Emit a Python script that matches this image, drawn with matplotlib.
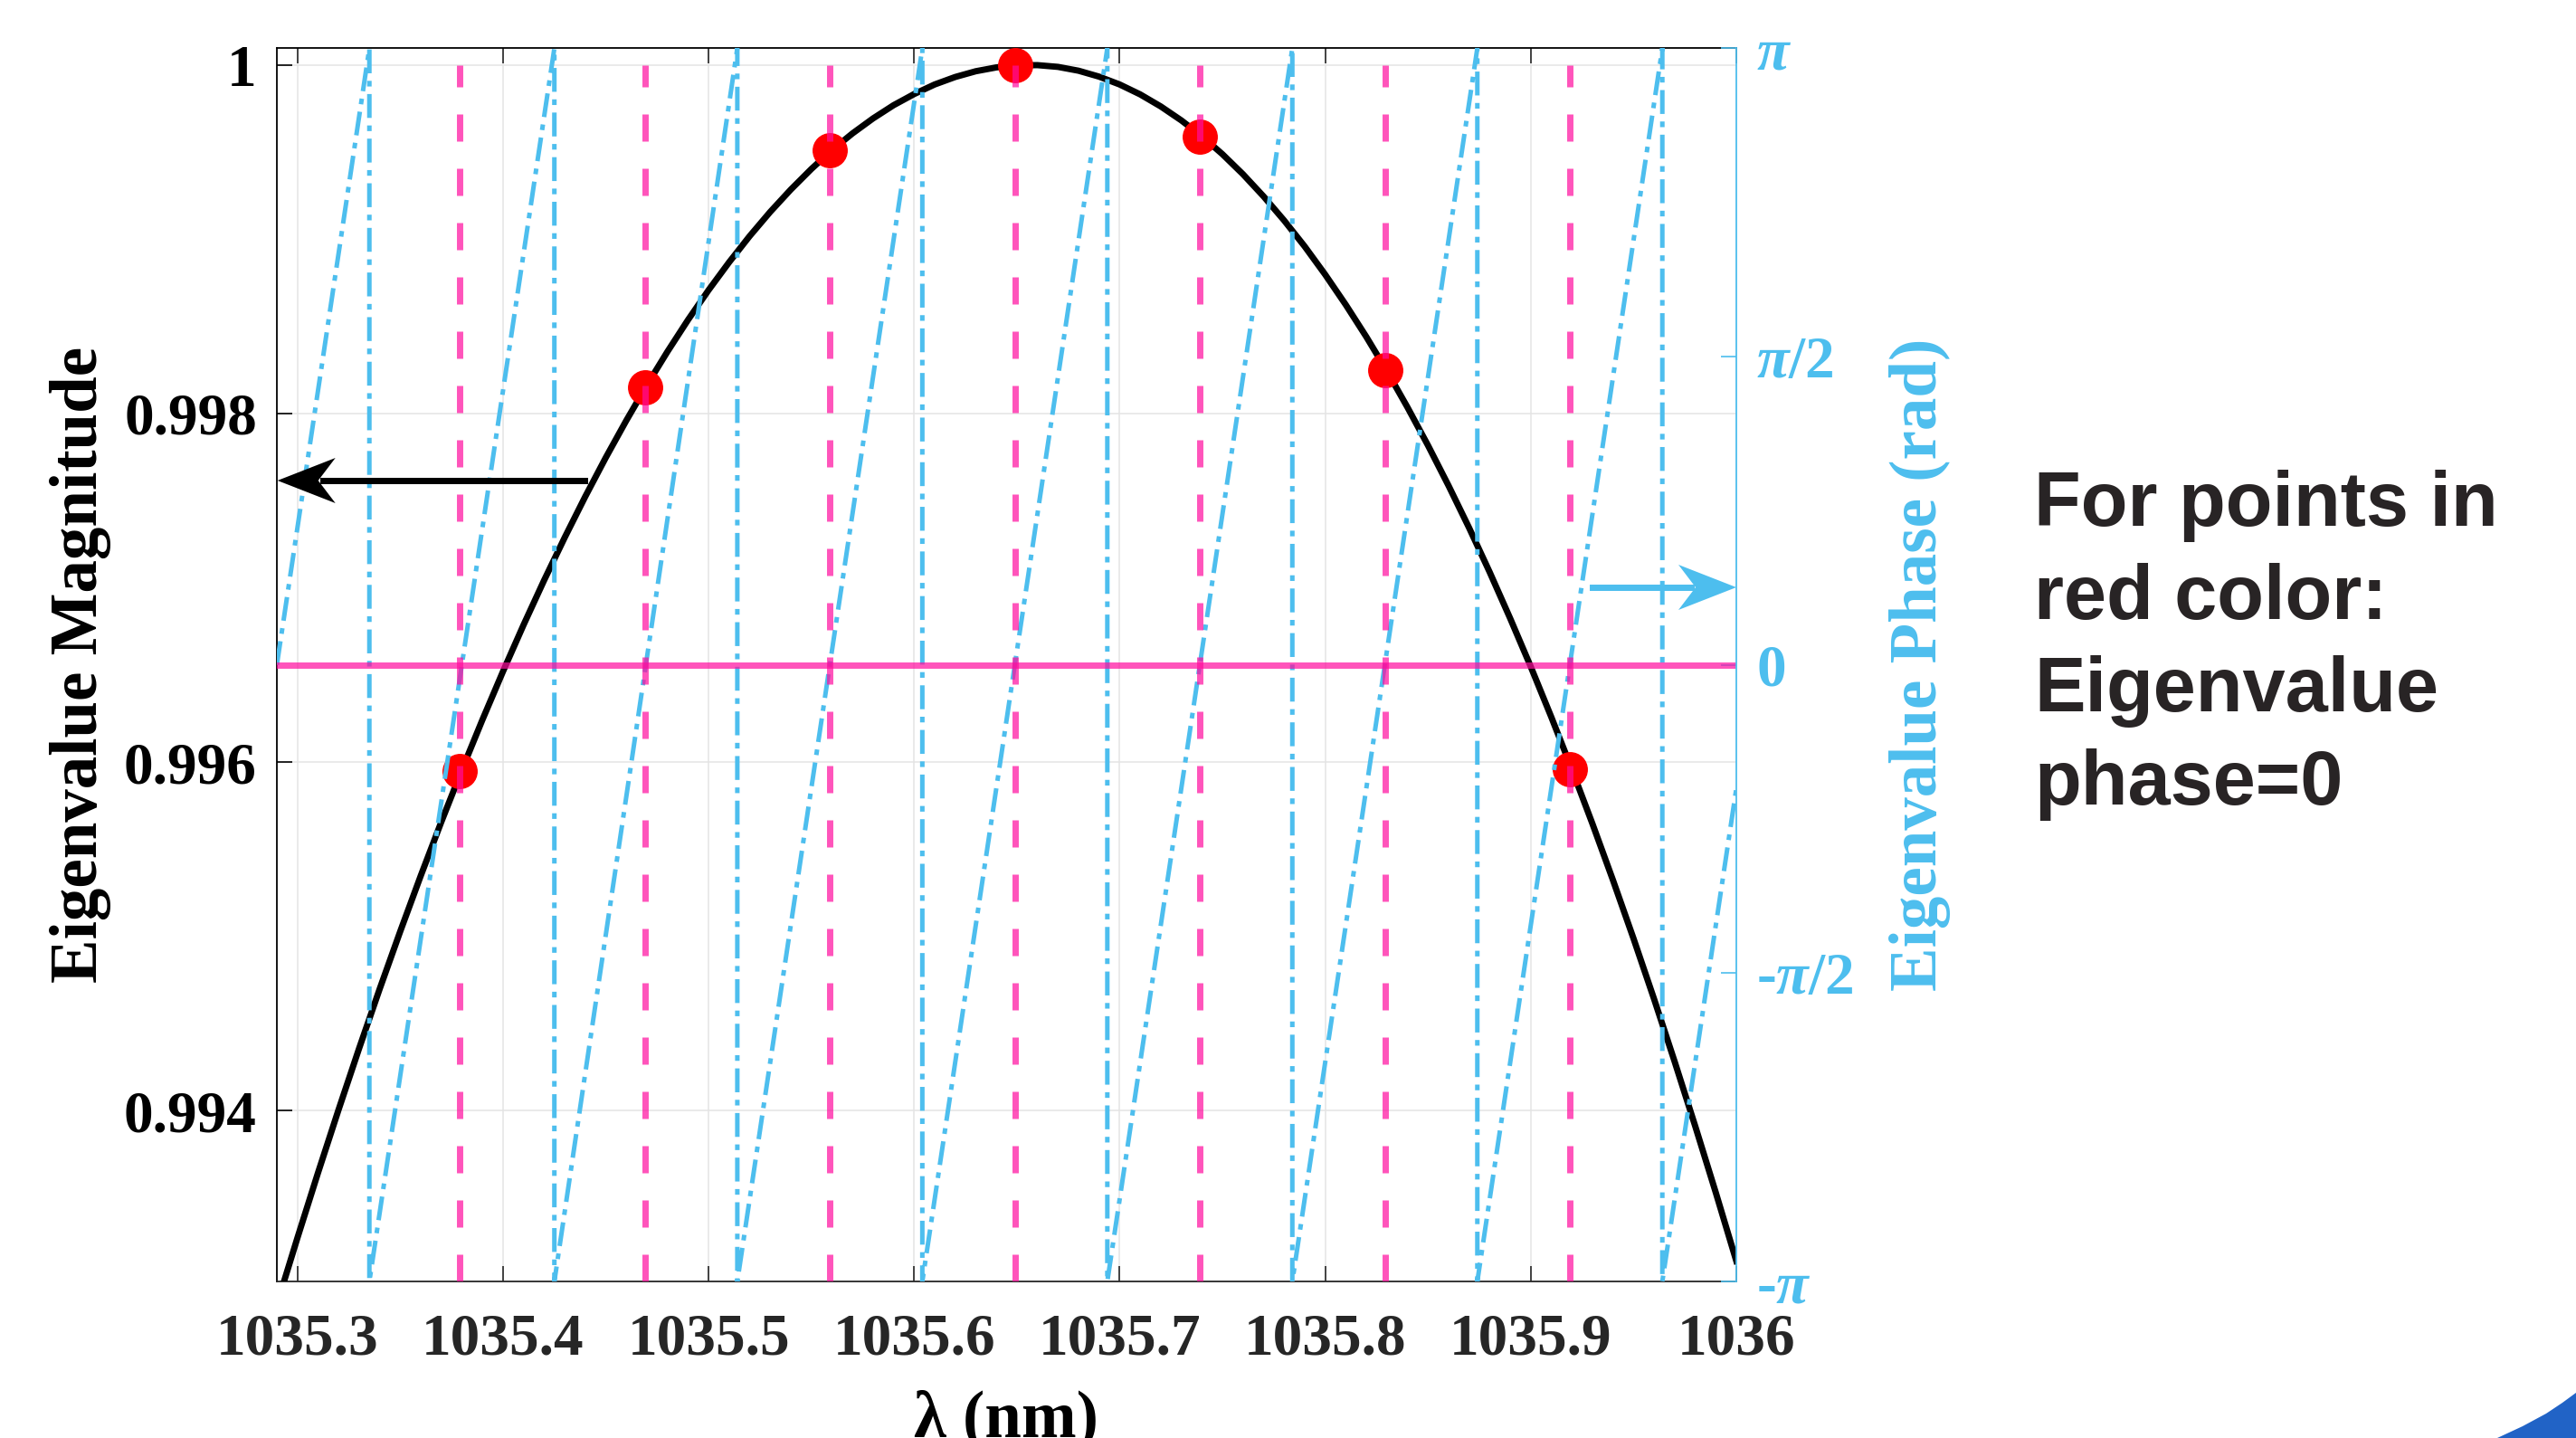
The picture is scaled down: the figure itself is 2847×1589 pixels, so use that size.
import numpy as np
import matplotlib
matplotlib.use("Agg")
import matplotlib.pyplot as plt
from matplotlib.patches import Polygon
from matplotlib.lines import Line2D

# magnitude curve (every 0.01 nm)
wl = [1035.29, 1035.30, 1035.31, 1035.32, 1035.33, 1035.34, 1035.35, 1035.36,
      1035.37, 1035.38, 1035.39, 1035.40, 1035.41, 1035.42, 1035.43, 1035.44,
      1035.45, 1035.46, 1035.47, 1035.48, 1035.49, 1035.50, 1035.51, 1035.52,
      1035.53, 1035.54, 1035.55, 1035.56, 1035.57, 1035.58, 1035.59, 1035.60,
      1035.61, 1035.62, 1035.63, 1035.64, 1035.65, 1035.66, 1035.67, 1035.68,
      1035.69, 1035.70, 1035.71, 1035.72, 1035.73, 1035.74, 1035.75, 1035.76,
      1035.77, 1035.78, 1035.79, 1035.80, 1035.81, 1035.82, 1035.83, 1035.84,
      1035.85, 1035.86, 1035.87, 1035.88, 1035.89, 1035.90, 1035.91, 1035.92,
      1035.93, 1035.94, 1035.95, 1035.96, 1035.97, 1035.98, 1035.99, 1036.00]
mag = [0.992887, 0.993270, 0.993643, 0.994005, 0.994357, 0.994698, 0.995028, 0.995348,
       0.995657, 0.995955, 0.996243, 0.996520, 0.996787, 0.997043, 0.997288, 0.997523,
       0.997747, 0.997960, 0.998163, 0.998355, 0.998537, 0.998708, 0.998868, 0.999018,
       0.999157, 0.999285, 0.999403, 0.999511, 0.999607, 0.999693, 0.999769, 0.999833,
       0.999888, 0.999931, 0.999964, 0.999986, 0.999998, 0.999999, 0.999989, 0.999967,
       0.999933, 0.999888, 0.999831, 0.999762, 0.999682, 0.999591, 0.999488, 0.999373,
       0.999246, 0.999108, 0.998959, 0.998797, 0.998624, 0.998440, 0.998244, 0.998036,
       0.997817, 0.997586, 0.997344, 0.997090, 0.996824, 0.996547, 0.996258, 0.995958,
       0.995646, 0.995322, 0.994987, 0.994640, 0.994281, 0.993911, 0.993530, 0.993137]

# red points (phase = 0)
dot_wl = [1035.379, 1035.469, 1035.559, 1035.649, 1035.739, 1035.829, 1035.919]
dot_mag = [0.99595, 0.99815, 0.99951, 1.00000, 0.99959, 0.99825, 0.99596]

# wrapped phase (sawtooth), rad
pi = np.pi
phase_wl = [1035.290, 1035.335, 1035.335, 1035.425, 1035.425, 1035.514, 1035.514,
            1035.604, 1035.604, 1035.694, 1035.694, 1035.784, 1035.784,
            1035.874, 1035.874, 1035.964, 1035.964, 1036.000]
phase = [0.0, pi, -pi, pi, -pi, pi, -pi, pi, -pi, pi, -pi, pi, -pi,
         pi, -pi, pi, -pi, -0.63]

xticks = [1035.3, 1035.4, 1035.5, 1035.6, 1035.7, 1035.8, 1035.9, 1036.0]
xtick_labels = ["1035.3", "1035.4", "1035.5", "1035.6", "1035.7", "1035.8", "1035.9", "1036"]
yticks = [0.994, 0.996, 0.998, 1.0]
ytick_labels = ["0.994", "0.996", "0.998", "1"]
ph_ticks = [-pi, -pi / 2, 0, pi / 2, pi]
ph_labels = ["-$\\pi$", "-$\\pi$/2", "0", "$\\pi$/2", "$\\pi$"]
note_lines = ["For points in", "red color:", "Eigenvalue", "phase=0"]

BLUE = "#4DBEEE"
MAGENTA = "#FF0C9E"
W, H = 2847, 1589

plt.rcParams["font.family"] = "Liberation Serif"
plt.rcParams["font.weight"] = "bold"
plt.rcParams["axes.labelweight"] = "bold"
plt.rcParams["mathtext.fontset"] = "custom"
plt.rcParams["mathtext.it"] = "Liberation Serif:italic:bold"
plt.rcParams["mathtext.rm"] = "Liberation Serif:bold"
plt.rcParams["lines.scale_dashes"] = False

fig = plt.figure(figsize=(W / 100, H / 100), dpi=100)
ax = fig.add_axes([306 / W, 1 - 1416 / H, (1919 - 306) / W, (1416 - 53.3) / H])
ax2 = ax.twinx()

ax.set_xlim(1035.29, 1036.0)
ax.set_ylim(0.99302, 1.000096)
ax2.set_ylim(-pi, pi)

ax.set_axisbelow(True)
ax.grid(True, color="#E4E4E4", linewidth=1.1)

ax.plot(wl, mag, color="black", linewidth=5, zorder=3, solid_joinstyle="round")
ax.plot(dot_wl, dot_mag, "o", color="red", markersize=27, zorder=4)

ax2.plot(phase_wl, phase, color=BLUE, linewidth=3.6, dashes=(19, 6, 4.5, 6))
ax2.axhline(0, color=MAGENTA, linewidth=5, alpha=0.7)
for x in dot_wl:
    ax2.plot([x, x], [0.99302, 1.0], transform=ax.transData, color=MAGENTA,
             linewidth=5, alpha=0.7, dashes=(21.6, 21.6))

# axes styling
ax.set_xticks(xticks)
ax.set_xticklabels(xtick_labels)
ax.set_yticks(yticks)
ax.set_yticklabels(ytick_labels)
ax.tick_params(axis="both", direction="in", length=12.5, width=1.2, labelsize=47, pad=16)
ax.tick_params(axis="x", top=True, color="#262626", labelcolor="#262626", pad=25)
ax.tick_params(axis="y", right=False, colors="black")
ax.spines["right"].set_visible(False)
for s in ["left", "top"]:
    ax.spines[s].set_color("black")
ax.spines["bottom"].set_color("#262626")
for s in ax.spines.values():
    s.set_linewidth(1.3)

ax2.set_yticks(ph_ticks)
ax2.set_yticklabels(ph_labels)
ax2.tick_params(axis="y", direction="in", length=12.5, width=1.2, labelsize=47, pad=16, colors=BLUE)
for s in ["left", "top", "bottom"]:
    ax2.spines[s].set_visible(False)
ax2.spines["right"].set_color(BLUE)
ax2.spines["right"].set_linewidth(1.3)

ax.set_xlabel("λ (nm)", fontsize=52.5, fontweight="bold")
ax.xaxis.set_label_coords(0.5, -0.0873)
ax.set_ylabel("Eigenvalue Magnitude", fontsize=52.5, fontweight="bold", color="black")
ax.yaxis.set_label_coords(-0.1135, 0.5)
ax2.set_ylabel("Eigenvalue Phase (rad)", fontsize=52.5, fontweight="bold", color=BLUE)
ax2.yaxis.set_label_coords(1.105, 0.5)


def fig_arrow(x_tail, x_tip, y, color):
    # notched arrow, given in figure pixels
    d = 1 if x_tip > x_tail else -1
    f = lambda px, py: (px / W, 1 - py / H)
    fig.add_artist(Line2D([x_tail / W, (x_tip - d * 50) / W], [1 - y / H] * 2,
                          transform=fig.transFigure, color=color, linewidth=5))
    head = [f(x_tip, y), f(x_tip - d * 64, y - 25), f(x_tip - d * 45, y), f(x_tip - d * 64, y + 25)]
    fig.add_artist(Polygon(head, closed=True, transform=fig.transFigure,
                           facecolor=color, edgecolor="none"))


fig_arrow(646, 306.7, 531, "black")
fig_arrow(1760, 1919, 649, BLUE)

for i, line in enumerate(note_lines):
    fig.text(2248 / W, 1 - (581 + 102.6 * i) / H, line, family="Liberation Sans",
             fontweight="bold", fontsize=61, color="#282425", va="baseline", ha="left")

# slide decoration in the corner
corner = [(2760, 1589), (2788, 1576), (2814, 1562), (2832, 1550), (2847, 1539), (2847, 1589)]
fig.add_artist(Polygon([(x / W, 1 - y / H) for x, y in corner], closed=True,
                       transform=fig.transFigure, facecolor="#2163C6", edgecolor="none"))

fig.savefig("out.png", dpi=100)
